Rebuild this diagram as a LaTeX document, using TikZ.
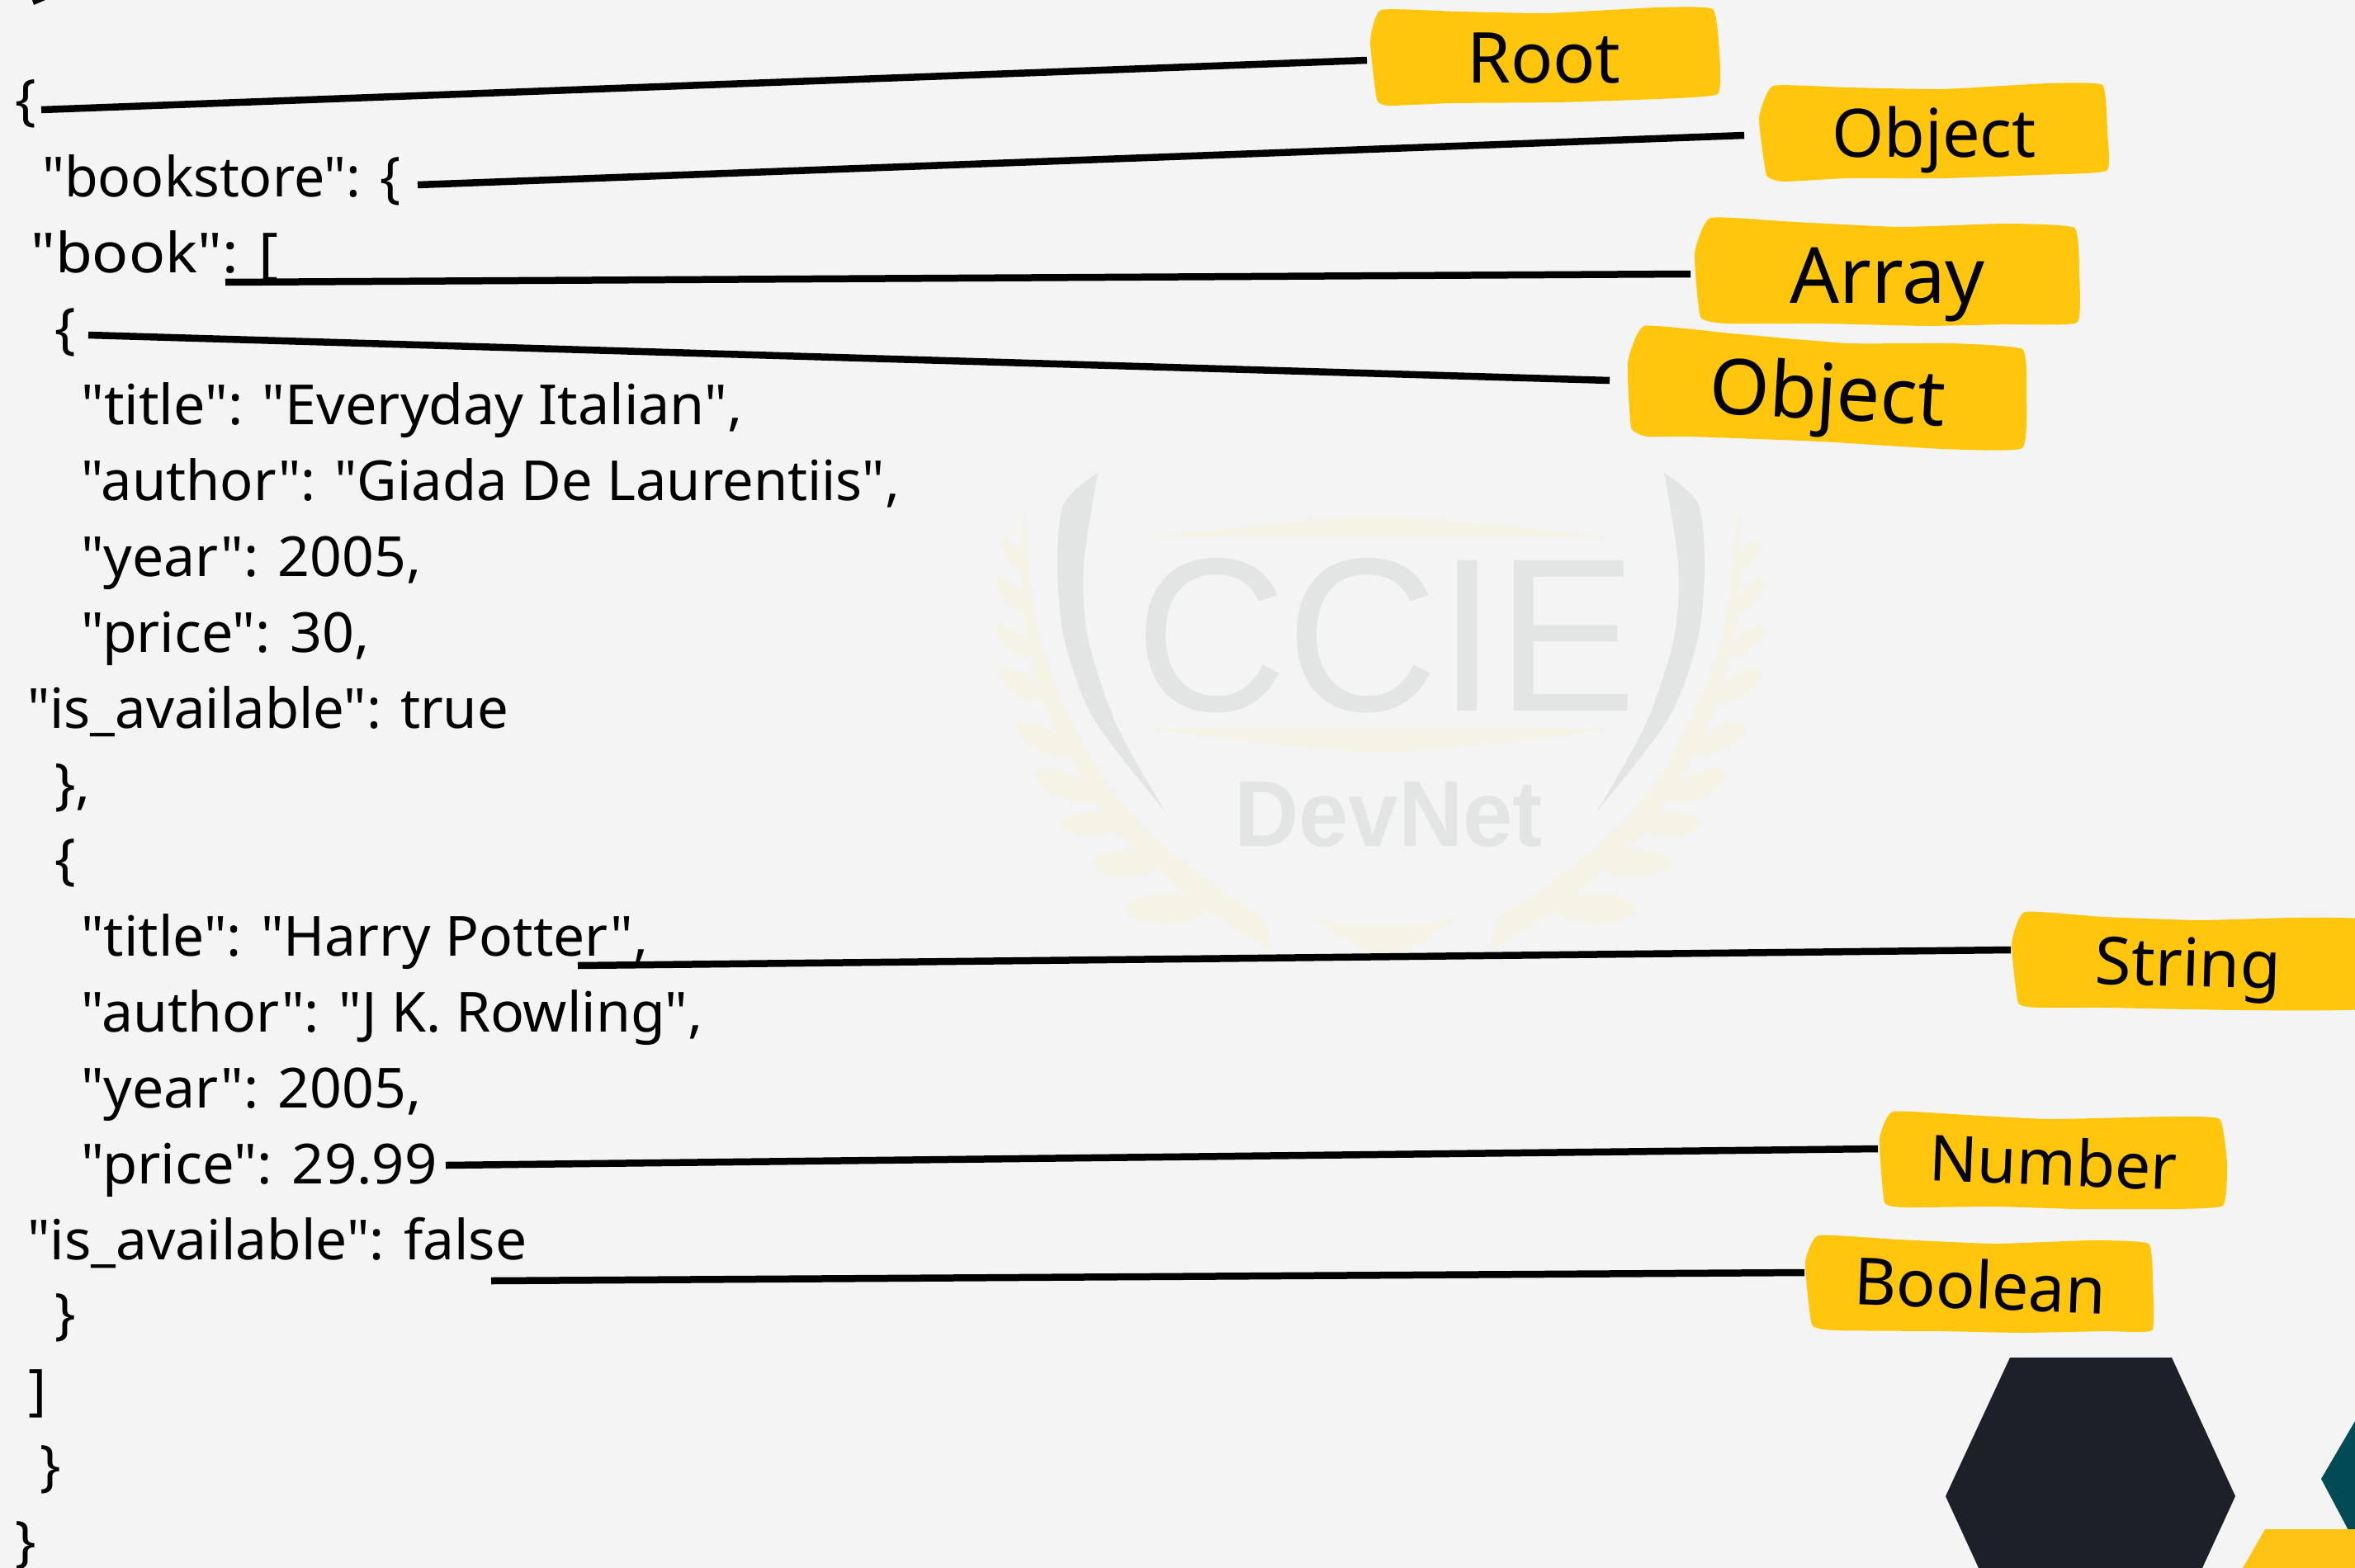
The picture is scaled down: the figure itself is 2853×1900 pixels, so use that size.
\documentclass[tikz,border=0pt]{standalone}
\usepackage{fontspec}
\newfontfamily\codefont{Noto Sans}
\newfontfamily\wmfont{Liberation Sans}
\definecolor{bgc}{HTML}{F4F4F4}
\definecolor{mark}{HTML}{FFC60D}
\definecolor{wmgray}{HTML}{E3E5E4}
\definecolor{wmcream}{HTML}{F5F2E6}
\definecolor{hexdark}{HTML}{1D2029}
\definecolor{hexteal}{HTML}{024A54}
\definecolor{hexyel}{HTML}{FFC313}
\tikzset{
  codeline/.style={anchor=base west,inner sep=0pt,text=black,font=\codefont\fontsize{67}{67}\selectfont,xscale=#1,transform shape},
  codeline/.default=1,
  labeltext/.style={anchor=base west,inner sep=0pt,text=black,font=\codefont\fontsize{#1}{#1}\selectfont},
  labelfill/.style={fill=mark},
  connector/.style={draw=black,line width=8.5pt},
}
\newcommand{\wavy}[1]{\fill[labelfill] plot[smooth cycle,tension=0.25] coordinates {#1};}
\newcommand{\leaf}[5]{\fill[wmcream,shift={(#1,#2)},rotate=#5] (0,0) ellipse [x radius=#3,y radius=#4];}
\newcommand{\laurelhalf}{%
  \fill[wmgray] plot[smooth] coordinates {(1330,573) (1289,610) (1281,683) (1289,773) (1325,871) (1412,984)}
     -- plot[smooth] coordinates {(1412,984) (1353,879) (1318,773) (1313,683) (1330,573)} -- cycle;
  \fill[wmcream] plot[smooth] coordinates {(1240,622) (1237,683) (1244,765) (1263,846) (1291,908) (1325,969) (1356,1010) (1405,1055) (1461,1102) (1542,1153)}
     -- plot[smooth] coordinates {(1542,1153) (1530,1113) (1500,1093) (1416,1030) (1381,997) (1332,936) (1286,846) (1258,765) (1247,683) (1242,622)} -- cycle;
  \leaf{1412}{1101}{49}{18}{0}
  \leaf{1365}{1046}{40}{16}{0}
  \leaf{1323}{998}{37}{14}{0}
  \leaf{1289}{952}{38}{15}{-24}
  \leaf{1263}{895}{35}{14}{-28}
  \leaf{1239}{830}{31}{13}{-33}
  \leaf{1228}{776}{26}{11}{-40}
  \leaf{1225}{720}{26}{10}{-50}
  \leaf{1226}{670}{20}{8}{-56}
}
\begin{document}
\begin{tikzpicture}[x=1pt,y=-1pt]
\useasboundingbox (0,0) rectangle (2853,1900);
\fill[bgc] (0,0) rectangle (2853,1900);
% watermark
\laurelhalf
\begin{scope}[xshift=3346pt,xscale=-1]
\laurelhalf
\end{scope}
\fill[wmcream] (1391,651) .. controls (1500,640) and (1600,626) .. (1668,626) .. controls (1740,626) and (1850,640) .. (1953,651) -- cycle;
\fill[wmcream] (1388,883) -- (1960,883) .. controls (1850,895) and (1740,912) .. (1675,912) .. controls (1610,912) and (1500,895) .. (1388,883) -- cycle;
\fill[wmcream] (1590,1112) .. controls (1620,1120) and (1650,1123) .. (1670,1123) .. controls (1700,1123) and (1735,1120) .. (1765,1112) -- (1697,1158) -- (1660,1158) -- cycle;
\node[anchor=base west,inner sep=0pt,text=wmgray,font={\wmfont\fontsize{265}{265}\selectfont},xscale=.96,transform shape] (wmccie) at (1375,861) {CCIE};
\node[anchor=base west,inner sep=0pt,text=wmgray,font={\wmfont\bfseries\fontsize{113}{113}\selectfont},xscale=.96,transform shape] (wmdev) at (1495,1025) {DevNet};
% bottom right hexagons
\fill[hexteal] (2853,1722) -- (2812,1792) -- (2846,1856) -- (2853,1856) -- cycle;
\fill[hexdark] (2435,1645) -- (2631,1645) -- (2708,1813) -- (2668,1900) -- (2397,1900) -- (2357,1813) -- cycle;
\fill[hexyel] (2744,1853) -- (2853,1853) -- (2853,1900) -- (2717,1900) -- cycle;
% fragment of a brace above the first line
\fill[black] (39,0) -- (55,0) -- (41,6) -- cycle;
% code
\node[codeline] (c0) at (18,145) {\{};
\node[codeline=.988] (c1) at (51,238) {"bookstore": \{};
\node[codeline=1.09] (c2) at (37,330) {"book": [};
\node[codeline] (c3) at (66,421) {\{};
\node[codeline=1.018] (c4) at (98,514) {"title": "Everyday Italian",};
\node[codeline=.996] (c5) at (98,606) {"author": "Giada De Laurentiis",};
\node[codeline=1.013] (c6) at (98,698) {"year": 2005,};
\node[codeline=1.016] (c7) at (98,790) {"price": 30,};
\node[codeline] (c8) at (33,882) {"is\_available": true};
\node[codeline] (c9) at (66,973) {\},};
\node[codeline] (c10) at (66,1064) {\{};
\node[codeline=1.01] (c11) at (98,1158) {"title": "Harry Potter",};
\node[codeline=1.012] (c12) at (98,1250) {"author": "J K. Rowling",};
\node[codeline=1.013] (c13) at (98,1342) {"year": 2005,};
\node[codeline=1.026] (c14) at (98,1434) {"price": 29.99};
\node[codeline=1.009] (c15) at (33,1526) {"is\_available": false};
\node[codeline] (c16) at (66,1615) {\}};
\node[codeline] (c17) at (34,1707) {]};
\node[codeline] (c18) at (48,1799) {\}};
\node[codeline] (c19) at (18,1891) {\}};
% labels
\wavy{(1673,12) (1766,14) (1874,16) (2008,9) (2075,11) (2083,64) (2081,114) (2008,120) (1887,124) (1759,125) (1683,128) (1668,121) (1660,50)}
\wavy{(2148,104) (2238,106) (2353,108) (2480,101) (2547,103) (2553,161) (2552,207) (2467,212) (2353,216) (2238,216) (2161,220) (2140,212) (2131,143)}
\wavy{(2072,264) (2174,269) (2302,275) (2429,271) (2513,276) (2519,332) (2516,391) (2429,393) (2333,395) (2206,392) (2091,392) (2060,384) (2053,307)}
\wavy{(1992,395) (2097,404) (2238,416) (2365,416) (2450,423) (2455,475) (2450,543) (2353,544) (2206,535) (2046,529) (1995,529) (1976,518) (1972,439)}
\wavy{(2453,1105) (2547,1111) (2663,1115) (2780,1112) (2870,1115) (2880,1170) (2870,1222) (2713,1224) (2547,1221) (2470,1221) (2445,1215) (2437,1143)}
\wavy{(2293,1347) (2383,1351) (2483,1356) (2630,1353) (2689,1356) (2698,1410) (2693,1461) (2630,1465) (2517,1465) (2417,1462) (2310,1463) (2283,1457) (2277,1380)}
\wavy{(2203,1497) (2300,1502) (2417,1507) (2533,1503) (2603,1507) (2608,1557) (2607,1612) (2550,1613) (2450,1615) (2350,1613) (2223,1612) (2195,1605) (2187,1530)}
\node[labeltext=85] (lroot) at (1777,101) {Root};
\node[labeltext=81] (lobj) at (2219,190) {Object};
\node[labeltext=94] (larr) at (2168,367) {Array};
\node[labeltext=93.5,rotate=-3.3] (lobjb) at (2069,500) {Object};
\node[labeltext=80,rotate=-1.6] (lstr) at (2537,1192) {String};
\node[labeltext=77,rotate=-2.3] (lnum) at (2336,1430) {Number};
\node[labeltext=79,rotate=-2.3] (lboo) at (2245,1580) {Boolean};
% connectors
\coordinate (a1) at (50,133);   \coordinate (b1) at (1656,73);
\coordinate (a2) at (506,224);  \coordinate (b2) at (2113,164);
\coordinate (a3) at (273,342);  \coordinate (b3) at (2048,332);
\coordinate (a4) at (107,406);  \coordinate (b4) at (1950,461);
\coordinate (a5) at (700,1170); \coordinate (b5) at (2436,1151);
\coordinate (a6) at (540,1412); \coordinate (b6) at (2275,1392);
\coordinate (a7) at (595,1552); \coordinate (b7) at (2186,1542);
\draw[connector] (a1) -- (b1);
\draw[connector] (a2) -- (b2);
\draw[connector] (a3) -- (b3);
\draw[connector] (a4) -- (b4);
\draw[connector] (a5) -- (b5);
\draw[connector] (a6) -- (b6);
\draw[connector] (a7) -- (b7);
\end{tikzpicture}
\end{document}
